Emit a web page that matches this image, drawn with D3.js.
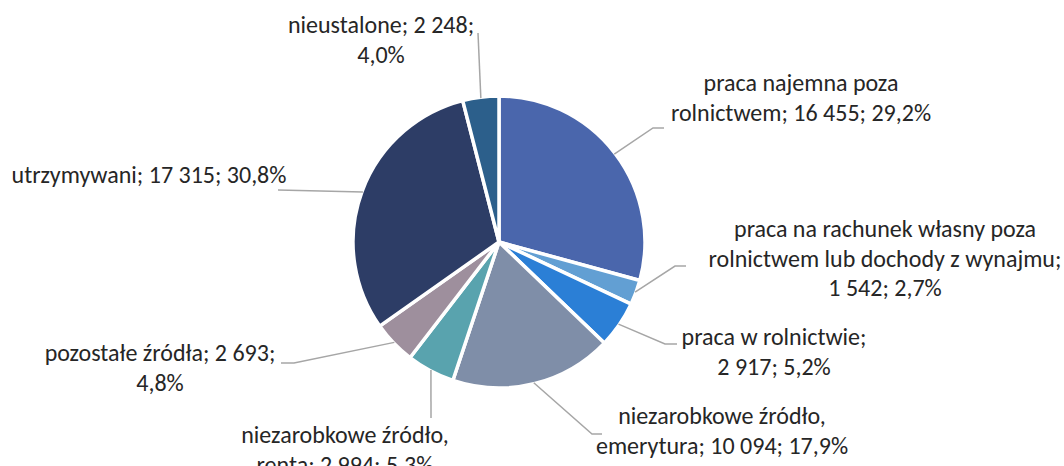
<!DOCTYPE html>
<html>
<head>
<meta charset="utf-8">
<script src="https://cdn.jsdelivr.net/npm/d3@7"></script>
<style>
  body { margin: 0; background: #fff; }
  svg { display: block; }
  text { font-family: Carlito, Calibri, Lato, sans-serif; fill: #262626; }
</style>
</head>
<body>
<script>
// dane
const kategorie = [
  "praca najemna poza rolnictwem",
  "praca na rachunek własny poza rolnictwem lub dochody z wynajmu",
  "praca w rolnictwie",
  "niezarobkowe źródło, emerytura",
  "niezarobkowe źródło, renta",
  "pozostałe źródła",
  "utrzymywani",
  "nieustalone"
];
const wartosci = [16455, 1542, 2917, 10094, 2994, 2693, 17315, 2248];
const procenty = ["29,2%", "2,7%", "5,2%", "17,9%", "5,3%", "4,8%", "30,8%", "4,0%"];
const etykiety = [
  ["praca najemna poza", "rolnictwem; 16 455; 29,2%"],
  ["praca na rachunek własny poza", "rolnictwem lub dochody z wynajmu;", "1 542; 2,7%"],
  ["praca w rolnictwie;", "2 917; 5,2%"],
  ["niezarobkowe źródło,", "emerytura; 10 094; 17,9%"],
  ["niezarobkowe źródło,", "renta; 2 994; 5,3%"],
  ["pozostałe źródła; 2 693;", "4,8%"],
  ["utrzymywani; 17 315; 30,8%"],
  ["nieustalone; 2 248;", "4,0%"]
];
const kolory = ["#4a66ac", "#629fd3", "#2b7fd6", "#7f8ea8", "#59a3ae", "#9e8f9d", "#2d3d66", "#2c5f8b"];

// uklad etykiet: srodek tekstu i punkty linii
const ukladEtykiet = [
  { x: 801, y: 83, lamanie: [653, 128], koniec: [664, 128] },
  { x: 885, y: 229, lamanie: [675, 266], koniec: [686, 266] },
  { x: 774, y: 337, lamanie: [665, 344], koniec: [677, 344] },
  { x: 722, y: 416, lamanie: [592, 434], koniec: [602, 434] },
  { x: 345, y: 435, lamanie: [431, 418], koniec: [431, 418] },
  { x: 160, y: 353, lamanie: [294, 363], koniec: [281, 363] },
  { x: 149, y: 175, lamanie: [278, 190], koniec: [278, 190] },
  { x: 381, y: 25, lamanie: [478, 33], koniec: [478, 33] }
];

const width = 1064;
const height = 466;
const cx = 499, cy = 242, r = 146;
const odstepLinii = 29.5;

const svg = d3.select("body").append("svg")
  .attr("width", width)
  .attr("height", height);

const dane = kategorie.map((k, i) => ({ kategoria: k, wartosc: wartosci[i], i: i }));

const pie = d3.pie().sort(null).value(d => d.wartosc);
const luki = pie(dane);
const arc = d3.arc().innerRadius(0).outerRadius(r);

const g = svg.append("g").attr("transform", `translate(${cx},${cy})`);

g.selectAll("path")
  .data(luki)
  .enter()
  .append("path")
  .attr("d", arc)
  .attr("fill", d => kolory[d.data.i])
  .attr("stroke", "#fff")
  .attr("stroke-width", 3.5)
  .attr("stroke-linejoin", "round");

// linie odniesienia
svg.selectAll("polyline")
  .data(luki)
  .enter()
  .append("polyline")
  .attr("points", d => {
    const kat = (d.startAngle + d.endAngle) / 2;
    const start = [cx + (r - 1) * Math.sin(kat), cy - (r - 1) * Math.cos(kat)];
    const u = ukladEtykiet[d.data.i];
    return [start, u.lamanie, u.koniec].map(p => p.join(",")).join(" ");
  })
  .attr("fill", "none")
  .attr("stroke", "#a6a6a6")
  .attr("stroke-width", 1.5);

// etykiety
const teksty = svg.selectAll("text.etykieta")
  .data(luki)
  .enter()
  .append("text")
  .attr("class", "etykieta")
  .attr("text-anchor", "middle")
  .style("font-size", "24px");

teksty.each(function(d) {
  const u = ukladEtykiet[d.data.i];
  d3.select(this).selectAll("tspan")
    .data(etykiety[d.data.i])
    .enter()
    .append("tspan")
    .attr("x", u.x)
    .attr("y", (t, j) => u.y + j * odstepLinii)
    .attr("dy", "0.35em")
    .text(t => t);
});
</script>
</body>
</html>
